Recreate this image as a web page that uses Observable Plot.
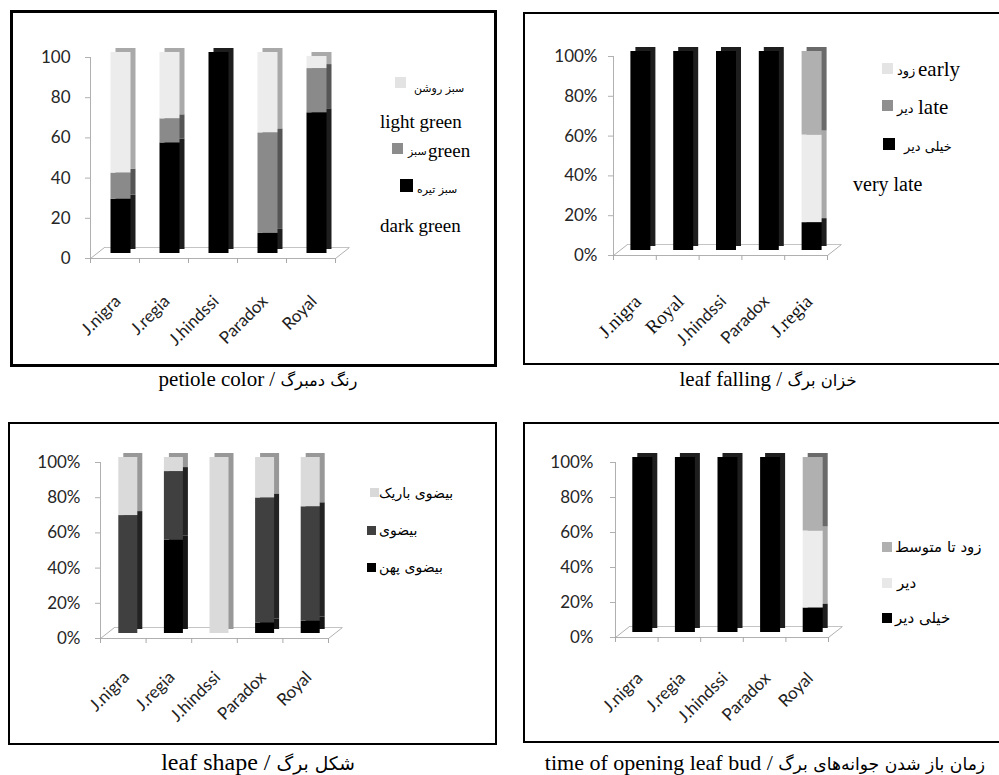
<!DOCTYPE html>
<html><head><meta charset="utf-8">
<script src="https://cdn.jsdelivr.net/npm/d3@7"></script>
<script src="https://cdn.jsdelivr.net/npm/@observablehq/plot@0.6"></script>
<style>
html,body{margin:0;padding:0;background:#fff}
body{position:relative;width:999px;height:775px;overflow:hidden}
.box{position:absolute;border:2px solid #000;box-sizing:border-box}
.abs{position:absolute;white-space:nowrap;line-height:1;color:#000}
.sq{position:absolute}
.fa{font-family:"DejaVu Sans","Noto Sans",sans-serif}
.en{font-family:"Liberation Serif","Times New Roman",serif}
.cap{position:absolute;white-space:nowrap;line-height:1;transform:translate(-50%,-50%);font-family:"Liberation Serif","Times New Roman",serif;color:#000}
</style></head><body>
<script>
// ---------- data ----------
const petioleCats = ["J.nigra","J.regia","J.hindssi","Paradox","Royal"];
const petioleSeries = ["سبز تیره","سبز","سبز روشن"];          // dark green, green, light green (bottom → top)
const petioleDarkGreen  = [27, 55, 100, 10, 70];
const petioleGreen      = [13, 12,   0, 50, 22];
const petioleLightGreen = [60, 33,   0, 40,  6];

const fallingCats = ["J.nigra","Royal","J.hindssi","Paradox","J.regia"];
const fallingSeries = ["خیلی دیر","زود","دیر"];                // very late, early, late (bottom → top)
const fallingVeryLate = [100, 100, 100, 100, 14];
const fallingEarly    = [  0,   0,   0,   0, 44];
const fallingLate     = [  0,   0,   0,   0, 42];

const shapeCats = ["J.nigra","J.regia","J.hindssi","Paradox","Royal"];
const shapeSeries = ["بیضوی پهن","بیضوی","بیضوی باریک"];
const shapeWide     = [ 0, 53,   0,  6,  7];
const shapeElliptic = [67, 39,   0, 71, 65];
const shapeNarrow   = [33,  8, 100, 23, 28];

const budCats = ["J.nigra","J.regia","J.hindssi","Paradox","Royal"];
const budSeries = ["خیلی دیر","دیر","زود تا متوسط"];
const budVeryLate = [100, 100, 100, 100, 14];
const budLate     = [  0,   0,   0,   0, 44];
const budEarlyMid = [  0,   0,   0,   0, 42];

const yTicks = [0, 20, 40, 60, 80, 100];

// ---------- drawing ----------
function panel(o){
  const n = o.cats.length;
  const rows = [];
  o.cats.forEach((c,i)=>{ let acc=0; o.values.forEach((vals,s)=>{ const v=vals[i]; if(v>0) rows.push({i,s,y1:acc,y2:acc+v}); acc+=v; }); });
  const pxX = (o.w - o.ml - o.mr)/n, pxY = (o.h - o.mt - o.mb)/100;
  const hw = o.barPx/pxX/2;
  const fdx = 14, fdy = 11;
  const bx1 = d=>d.i+0.5-hw, bx2 = d=>d.i+0.5+hw;
  const serif = o.serif || o.cats.map(()=>false);
  const svg = Plot.plot({
    width:o.w, height:o.h, marginLeft:o.ml, marginRight:o.mr, marginTop:o.mt, marginBottom:o.mb,
    x:{domain:[0,n], axis:null}, y:{domain:[0,100], axis:null}, color:{type:"identity"},
    style:{background:"transparent", overflow:"visible"},
    marks:[
      Plot.ruleY([0],{x1:0,x2:n,stroke:"#b0b0b0"}),
      Plot.ruleY([0],{x1:0,x2:n,dx:fdx,dy:-fdy,stroke:"#c4c4c4"}),
      Plot.link([0,n],{x1:d=>d,y1:0,x2:d=>d+fdx/pxX,y2:fdy/pxY,stroke:"#b0b0b0"}),
      Plot.ruleX(d3.range(n+1),{y1:0,y2:-5/pxY,stroke:"#a8a8a8"}),
      Plot.ruleX([0],{y1:0,y2:100,stroke:"#b0b0b0"}),
      Plot.ruleY(o.ticks,{x1:-5/pxX,x2:0,stroke:"#b0b0b0"}),
      Plot.axisY({ticks:o.ticks, tickSize:0, tickPadding:o.pad, tickFormat:o.fmt, fontSize:17, fontFamily:"Lato", color:"#262626", label:null}),
      Plot.rect(rows,{x1:bx1,x2:bx2,y1:"y1",y2:"y2",fill:d=>o.side[d.s],dx:o.bdx+5,dy:-9}),
      Plot.rect(rows,{x1:bx1,x2:bx2,y1:"y1",y2:"y2",fill:d=>o.front[d.s],dx:o.bdx,dy:-5}),
      Plot.text(o.cats,{filter:(d,i)=>!serif[i], x:(d,i)=>i+0.5, y:0, text:d=>d, rotate:-45, textAnchor:"end", dx:o.ldx, dy:o.ldy, fontSize:17, fontFamily:"Lato", fill:"#222"}),
      Plot.text(o.cats,{filter:(d,i)=>serif[i], x:(d,i)=>i+0.5, y:0, text:d=>d, rotate:-45, textAnchor:"end", dx:o.ldx, dy:o.ldy, fontSize:19, fontFamily:"Liberation Serif", fill:"#111"})
    ]
  });
  svg.style.position="absolute"; svg.style.left=o.left+"px"; svg.style.top=o.top+"px";
  document.body.appendChild(svg);
}

function box(l,t,w,h,b){ const d=document.createElement("div"); d.className="box"; Object.assign(d.style,{left:l+"px",top:t+"px",width:w+"px",height:h+"px",borderWidth:b+"px"}); document.body.appendChild(d); }
function sq(x,y,s,c){ const d=document.createElement("div"); d.className="sq"; Object.assign(d.style,{left:x+"px",top:y+"px",width:s+"px",height:s+"px",background:c}); document.body.appendChild(d); }
function txt(x,yc,s,size,cls){ const d=document.createElement("div"); d.className="abs "+cls; d.textContent=s; Object.assign(d.style,{left:x+"px",top:(yc-size/2)+"px",fontSize:size+"px"}); document.body.appendChild(d); }
function cap(x,yc,en,fa,size){ const d=document.createElement("div"); d.className="cap"; Object.assign(d.style,{left:x+"px",top:yc+"px",fontSize:size+"px"});
  const a=document.createElement("span"); a.textContent=en+" / "; d.appendChild(a);
  const b=document.createElement("span"); b.className="fa"; b.style.fontSize=(size*0.78)+"px"; b.textContent=fa; d.appendChild(b);
  document.body.appendChild(d); }

// boxes
box(10,10,487,357,3);
box(523,12,482,353,2);
box(8,422,489,323,2);
box(523,422,482,321,2);

// Panel 1: petiole color
panel({cats:petioleCats, values:[petioleDarkGreen,petioleGreen,petioleLightGreen],
  front:["#000000","#8a8a8a","#ececec"], side:["#1e1e1e","#555555","#a9a9a9"],
  left:10, top:10, w:487, h:357, ml:80, mr:162, mt:47, mb:109, barPx:20, bdx:6,
  ticks:yTicks, fmt:d=>String(d), pad:20, ldx:3, ldy:40});
// Panel 2: leaf falling
panel({cats:fallingCats, values:[fallingVeryLate,fallingEarly,fallingLate],
  front:["#000000","#ececec","#b0b0b0"], side:["#1e1e1e","#a8a8a8","#6a6a6a"],
  left:523, top:12, w:476, h:353, ml:90, mr:172, mt:44, mb:110, barPx:20, bdx:6,
  ticks:yTicks, fmt:d=>d+"%", pad:16, ldx:3, ldy:43, serif:[true,true,false,false,true]});
// Panel 3: leaf shape
panel({cats:shapeCats, values:[shapeWide,shapeElliptic,shapeNarrow],
  front:["#000000","#404040","#dadada"], side:["#151515","#232323","#989898"],
  left:8, top:422, w:489, h:323, ml:92, mr:169, mt:40, mb:107, barPx:19, bdx:5,
  ticks:yTicks, fmt:d=>d+"%", pad:20, ldx:3, ldy:36});
// Panel 4: time of opening leaf bud
panel({cats:budCats, values:[budVeryLate,budLate,budEarlyMid],
  front:["#000000","#ececec","#b0b0b0"], side:["#1e1e1e","#a8a8a8","#6a6a6a"],
  left:523, top:422, w:476, h:321, ml:92, mr:171, mt:40, mb:106, barPx:20, bdx:6,
  ticks:yTicks, fmt:d=>d+"%", pad:22, ldx:3, ldy:38});

// legends
// panel 1
sq(395,77,11,"#e3e3e3"); txt(414,88,petioleSeries[2],11,"fa");
txt(380,121,"light green",19,"en");
sq(392,143,11,"#8c8c8c"); txt(408,151,petioleSeries[1],11,"fa"); txt(428,150,"green",19,"en");
sq(400,179,13,"#000"); txt(417,189,petioleSeries[0],11,"fa");
txt(380,225,"dark green",19,"en");
// panel 2
sq(882,63,11,"#e4e4e4"); txt(897,70,fallingSeries[1],13,"fa"); txt(918,69,"early",21,"en");
sq(882,100,11,"#8f8f8f"); txt(897,108,fallingSeries[2],13,"fa"); txt(918,107,"late",21,"en");
sq(883,138,12,"#000"); txt(904,146,fallingSeries[0],13,"fa");
txt(853,184,"very late",20,"en");
// panel 3
sq(370,488,9,"#d9d9d9"); txt(379,493,shapeSeries[2],14,"fa");
sq(367,526,9,"#404040"); txt(379,530,shapeSeries[1],14,"fa");
sq(367,563,9,"#000"); txt(379,567,shapeSeries[0],14,"fa");
// panel 4
sq(882,542,10,"#b0b0b0"); txt(895,547,budSeries[2],15,"fa");
sq(882,578,10,"#e8e8e8"); txt(897,583,budSeries[1],15,"fa");
sq(882,613,10,"#000"); txt(895,618,budSeries[0],15,"fa");

// captions
cap(258,379,"petiole color","رنگ دمبرگ",21);
cap(768,379,"leaf falling","خزان برگ",21);
cap(258,762,"leaf shape","شکل برگ",24);
cap(765,763,"time of opening leaf bud","زمان باز شدن جوانه‌های برگ",22);
</script>
</body></html>
